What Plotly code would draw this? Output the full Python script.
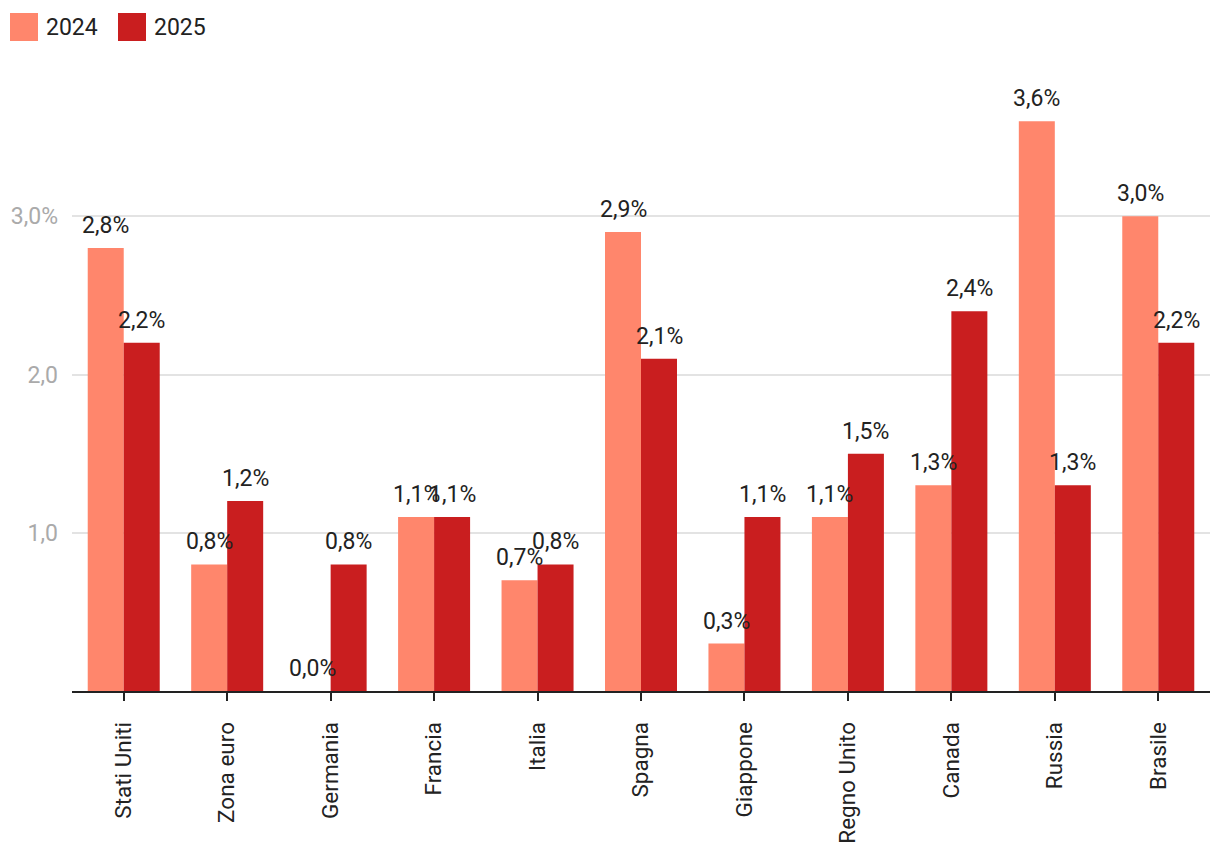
import plotly.graph_objects as go

categories = ["Stati Uniti", "Zona euro", "Germania", "Francia", "Italia", "Spagna",
              "Giappone", "Regno Unito", "Canada", "Russia", "Brasile"]
values_2024 = [2.8, 0.8, 0.0, 1.1, 0.7, 2.9, 0.3, 1.1, 1.3, 3.6, 3.0]
values_2025 = [2.2, 1.2, 0.8, 1.1, 0.8, 2.1, 1.1, 1.5, 2.4, 1.3, 2.2]
series_names = ["2024", "2025"]
colors = ["#FF866C", "#C91E1F"]
ytick_vals = [1, 2, 3]
ytick_text = ["1,0", "2,0", "3,0%"]

FONT = "Roboto"
FS = 23
ML, MT = 64, 50  # page body adds an 8px offset

def fmt(v):
    return f"{v:.1f}".replace(".", ",") + "%"

fig = go.Figure()
for name, vals, col in zip(series_names, [values_2024, values_2025], colors):
    fig.add_trace(go.Bar(x=categories, y=vals, name=name, marker_color=col,
                         marker_line_width=0, showlegend=False))

annotations = []
for vals, shift in [(values_2024, -18), (values_2025, 18)]:
    for c, v in zip(categories, vals):
        annotations.append(dict(x=c, y=v, xref="x", yref="y", text=fmt(v),
                                showarrow=False, xshift=shift, yanchor="bottom",
                                yshift=7, font=dict(family=FONT, size=FS, color="#222222")))

# legend: swatches + labels at top-left
shapes = []
lx = 2
for name, col in zip(series_names, colors):
    shapes.append(dict(type="rect", xref="paper", yref="paper",
                       xsizemode="pixel", ysizemode="pixel", xanchor=0, yanchor=1,
                       x0=lx - ML, x1=lx - ML + 28, y0=MT - 5, y1=MT - 33,
                       line_width=0, fillcolor=col))
    annotations.append(dict(xref="paper", yref="paper", x=0, y=1, xanchor="left",
                            yanchor="middle", xshift=lx - ML + 34, yshift=MT - 19,
                            text=name, showarrow=False,
                            font=dict(family=FONT, size=FS, color="#222222")))
    lx += 108

fig.update_layout(
    width=1220, height=862,
    margin=dict(l=ML, r=18, t=MT, b=179, pad=0, autoexpand=False),
    paper_bgcolor="white", plot_bgcolor="white",
    barmode="group", bargap=0.304, bargroupgap=0,
    font=dict(family=FONT, size=FS, color="#222222"),
    annotations=annotations,
    shapes=shapes,
    showlegend=False,
    xaxis=dict(showline=True, linecolor="#222222", linewidth=2, ticks="outside",
               ticklen=8, tickwidth=2, tickcolor="#222222", tickangle=-90,
               tickfont=dict(family=FONT, size=22.5, color="#222222"), showgrid=False,
               zeroline=False, automargin=False, ticklabelstandoff=12),
    yaxis=dict(range=[0, 4], tickvals=ytick_vals, ticktext=ytick_text, showgrid=True,
               gridcolor="#E3E3E3", gridwidth=1.5, zeroline=False, showline=False,
               tickfont=dict(family=FONT, size=FS, color="#AAAAAA"), ticks="",
               ticklabelstandoff=13, automargin=False),
)

fig.write_html("out.html")
